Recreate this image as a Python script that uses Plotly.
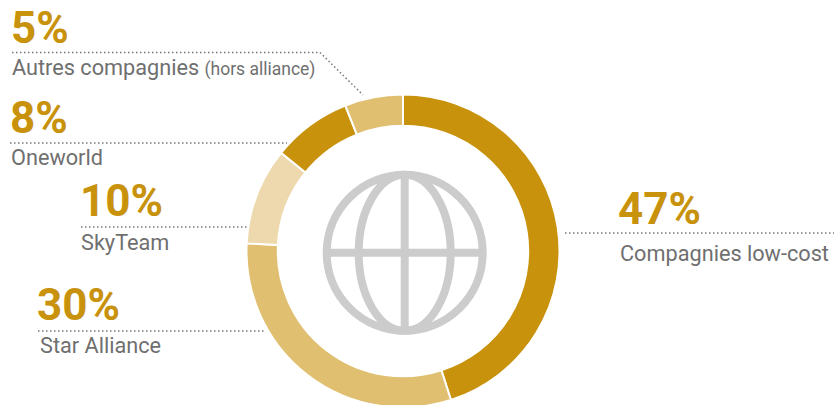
import plotly.graph_objects as go

# Data
categories = ["Compagnies low-cost", "Star Alliance", "SkyTeam", "Oneworld", "Autres compagnies"]
printed_labels = ["47%", "30%", "10%", "8%", "5%"]
# Slice sizes as drawn in the picture (the arcs differ slightly from the printed labels)
drawn_shares = [45.0, 30.7, 10.0, 8.2, 6.0]

W, H = 834, 410  # the ring runs slightly past the 405 px window, as in the reference
GOLD = "#C8920D"
MID = "#E0BF70"
PALE = "#EDD9AD"
GREY = "#6F6F6F"
slice_colors = [GOLD, MID, PALE, GOLD, MID]
FONT = "Roboto"


def px(x):
    return x / W


def py(y):
    return 1 - y / H


fig = go.Figure(go.Pie(
    labels=categories,
    values=drawn_shares,
    hole=0.8,
    sort=False,
    direction="clockwise",
    rotation=0,
    textinfo="none",
    hoverinfo="label+percent",
    showlegend=False,
    marker=dict(colors=slice_colors, line=dict(color="white", width=2)),
    domain=dict(x=[px(246.5), px(559.5)], y=[py(407.5), py(94.5)]),
))

# Label placement: pct x, pct y, name x, name y, leader points
placement = [
    (616, 209, 618, 253, [(565, 233), (834, 233)]),
    (35, 305, 38, 345, [(38, 331), (266, 331)]),
    (78, 201, 79, 242, [(81, 227), (249, 227)]),
    (8, 118, 9, 157, [(10, 143), (287, 143)]),
    (9, 28, 10, 67, [(12, 52.5), (320, 52.5), (363, 95)]),
]
name_text = list(categories)
name_text[4] = categories[4] + ' <span style="font-size:17.5px">(hors alliance)</span>'

annotations = []
shapes = []
for i, (pct_x, pct_y, name_x, name_y, pts) in enumerate(placement):
    annotations.append(dict(
        text=printed_labels[i], x=px(pct_x), y=py(pct_y), xref="paper", yref="paper",
        xanchor="left", yanchor="middle", showarrow=False, xshift=0,
        font=dict(family=FONT, size=44, color=GOLD, weight="bold"),
    ))
    annotations.append(dict(
        text=name_text[i], x=px(name_x), y=py(name_y), xref="paper", yref="paper",
        xanchor="left", yanchor="middle", showarrow=False,
        font=dict(family=FONT, size=21.7, color=GREY),
    ))
    for (x0, y0), (x1, y1) in zip(pts[:-1], pts[1:]):
        shapes.append(dict(
            type="line", xref="paper", yref="paper",
            x0=px(x0), y0=py(y0), x1=px(x1), y1=py(y1),
            line=dict(color="#777777", width=1.5, dash="1.5px,2.5px"),
        ))

# Globe icon
gx, gy = 404.7, 252.8
globe = dict(xref="paper", yref="paper", line=dict(color="#CCCCCC", width=8))
shapes += [
    dict(type="circle", x0=px(gx - 78), x1=px(gx + 78), y0=py(gy - 78), y1=py(gy + 78), **globe),
    dict(type="circle", x0=px(gx - 46), x1=px(gx + 46), y0=py(gy - 78), y1=py(gy + 78), **globe),
    dict(type="line", x0=px(gx), x1=px(gx), y0=py(gy - 78), y1=py(gy + 78), **globe),
    dict(type="line", x0=px(gx - 78), x1=px(gx + 78), y0=py(gy), y1=py(gy), **globe),
]

fig.update_layout(
    width=W, height=H,
    margin=dict(l=0, r=0, t=0, b=0),
    paper_bgcolor="white",
    plot_bgcolor="white",
    annotations=annotations,
    shapes=shapes,
)
fig.write_html(
    "out.html",
    config=dict(displayModeBar=False),
    post_script="document.documentElement.style.overflow='hidden';document.body.style.margin='0';document.body.style.overflow='hidden';",
)
